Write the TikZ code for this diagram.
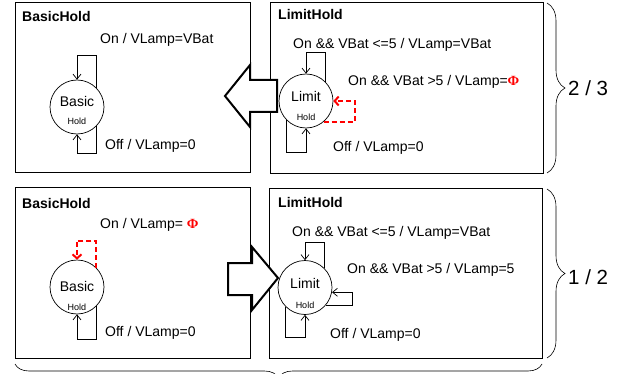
\documentclass[tikz,border=0pt]{standalone}
\usepackage{fontspec}
\setmainfont{Liberation Sans}
\newfontfamily\phifont{Liberation Serif}
\usetikzlibrary{arrows.meta,decorations.pathreplacing}
\begin{document}
\begin{tikzpicture}[x=1pt,y=-1pt,
  box/.style={draw, line width=0.9pt, inner sep=0pt},
  state/.style={draw, circle, line width=0.7pt, minimum size=54pt, inner sep=0pt},
  lbl/.style={anchor=west, inner sep=0pt, font=\fontsize{14}{16}\selectfont},
  ttl/.style={anchor=west, inner sep=0pt, font=\fontsize{14}{16}\selectfont\bfseries},
  big/.style={inner sep=0pt, font=\fontsize{14}{16}\selectfont},
  small/.style={inner sep=0pt, font=\fontsize{9}{10}\selectfont},
  ratio/.style={anchor=west, inner sep=0pt, font=\fontsize{20.5}{22}\selectfont},
  loopline/.style={line width=0.7pt, -{Straight Barb[length=5pt,width=8pt]}},
  redloop/.style={red, line width=2pt, dash pattern=on 5pt off 3pt, -{Straight Barb[length=4pt,width=9pt]}},
  bigarrow/.style={draw, line width=2pt, fill=white, line join=miter},
  brc/.style={decorate, decoration={brace, amplitude=18pt}, line width=0.6pt}]
\useasboundingbox (0,0) rectangle (628,374);
\newcommand{\redphi}{{\phifont\bfseries\color{red}Φ}}

% boxes
\node[box, minimum width=235pt, minimum height=170pt] (b1) at (132.5,87) {};
\node[box, minimum width=273pt, minimum height=171pt] (b2) at (406.5,87.5) {};
\node[box, minimum width=235pt, minimum height=171pt] (b3) at (132.5,272.5) {};
\node[box, minimum width=273pt, minimum height=170pt] (b4) at (405.5,273) {};

% titles
\node[ttl] (t1) at (22,16) {BasicHold};
\node[ttl] (t2) at (278,14) {LimitHold};
\node[ttl] (t3) at (22,203) {BasicHold};
\node[ttl] (t4) at (278,202) {LimitHold};

% states
\node[state] (c1) at (77,107) {};
\node[big] (c1a) at (77,101) {Basic};
\node[small] (c1b) at (77,121) {Hold};
\node[state] (c2) at (306,101) {};
\node[big] (c2a) at (306,96) {Limit};
\node[small] (c2b) at (306,117) {Hold};
\node[state] (c3) at (77,287) {};
\node[big] (c3a) at (77,286) {Basic};
\node[small] (c3b) at (77,307) {Hold};
\node[state] (c4) at (305,287.5) {};
\node[big] (c4a) at (305,283) {Limit};
\node[small] (c4b) at (305,305) {Hold};

% transition labels
\node[lbl] (l1) at (100,40) {On / VLamp=VBat};
\node[lbl] (l2) at (105,146) {Off / VLamp=0};
\node[lbl] (l3) at (293,45) {On \&\& VBat <=5 / VLamp=VBat};
\node[lbl] (l4) at (348,82) {On \&\& VBat >5 / VLamp=\redphi};
\node[lbl] (l5) at (333,148) {Off / VLamp=0};
\node[lbl] (l6) at (100,225) {On / VLamp= \redphi};
\node[lbl] (l7) at (105,333) {Off / VLamp=0};
\node[lbl] (l8) at (292,233) {On \&\& VBat <=5 / VLamp=VBat};
\node[lbl] (l9) at (347,270) {On \&\& VBat >5 / VLamp=5};
\node[lbl] (l10) at (330,335) {Off / VLamp=0};

% loops
\draw[loopline] (c1.45) -- ++(0,-32) -| (c1.north);
\draw[loopline] (c1.-45) -- ++(0,27) -| (c1.south);
\draw[loopline] (c2.45) -- ++(0,-29) -| (c2.north);
\draw[loopline] (c2.-135) -- ++(0,32) -| (c2.south);
\draw[redloop] (c2.-50) -- ++(31,0) |- (c2.east);
\draw[redloop] (c3.45) -- ++(0,-27) -| (c3.north);
\draw[loopline] (c3.-45) -- ++(0,33) -| (c3.south);
\draw[loopline] (c4.45) -- ++(0,-26) -| (c4.north);
\draw[loopline] (c4.-40) -- ++(26,0) |- (c4.-10);
\draw[loopline] (c4.-135) -- ++(0,31) -| (c4.south);

% big arrows
\draw[bigarrow] (225,96) -- (250,65) -- (250,80) -- (277,80) -- (277,112) -- (250,112) -- (250,127) -- cycle;
\draw[bigarrow] (278,278) -- (252,247) -- (252,263) -- (228,263) -- (228,295) -- (252,295) -- (252,310) -- cycle;

% braces
\draw[brc] (547,3) -- (547,173);
\node[ratio] (r1) at (568,88) {2 / 3};
\draw[brc] (547,189) -- (547,358);
\node[ratio] (r2) at (568,277) {1 / 2};
\draw[brc, decoration={brace, amplitude=14pt}] (542,364) -- (15,364);
\end{tikzpicture}
\end{document}
